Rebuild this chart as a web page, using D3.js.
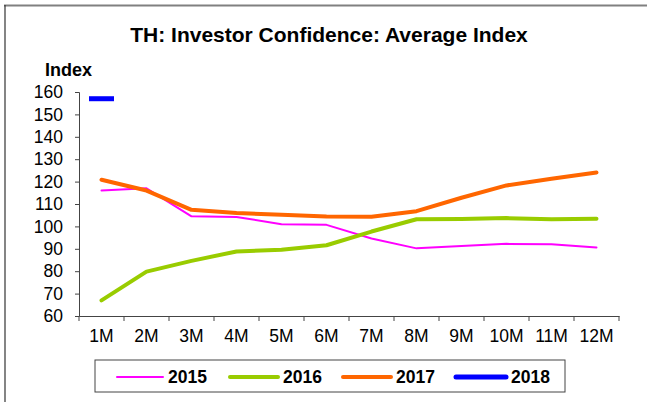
<!DOCTYPE html>
<html>
<head>
<meta charset="utf-8">
<script src="https://cdn.jsdelivr.net/npm/d3@7"></script>
<style>
  body { margin: 0; background: #fff; }
  text { font-family: "Liberation Sans", Arial, sans-serif; fill: #000; }
</style>
</head>
<body>
<div class="chart"></div>
<script>
// months on the x axis
const months = ["1M","2M","3M","4M","5M","6M","7M","8M","9M","10M","11M","12M"];
const yTicks = [60,70,80,90,100,110,120,130,140,150,160];

// index values
const v2015 = [116, 117, 104.5, 104.2, 101, 100.7, 94.6, 90.2, 91.3, 92.2, 92, 90.6];
const v2016 = [67, 79.8, 84.6, 88.8, 89.6, 91.6, 97.7, 103.2, 103.3, 103.7, 103.2, 103.4];
const v2017 = [120.8, 116, 107.4, 106, 105.2, 104.4, 104.3, 106.8, 112.8, 118.3, 121.3, 124.1];
const v2018 = [157];

const seriesNames = ["2015","2016","2017","2018"];
const seriesColors = ["#ff00ff","#99cc00","#ff6600","#0000ff"];
const seriesWidths = [2, 4, 4, 5];
const seriesData = [v2015, v2016, v2017, v2018];

const W = 647, H = 402;
const margin = {top: 92, right: 28, bottom: 86, left: 79};
const w = W - margin.left - margin.right;
const h = H - margin.top - margin.bottom;

const svg = d3.select(".chart").append("svg")
    .attr("width", W)
    .attr("height", H);

// outer frame: top and left edges
svg.append("line").attr("x1", 4).attr("x2", W).attr("y1", 5.5).attr("y2", 5.5)
   .attr("stroke", "#808080").attr("stroke-width", 2);
svg.append("line").attr("x1", 5).attr("x2", 5).attr("y1", 5).attr("y2", H)
   .attr("stroke", "#333").attr("stroke-width", 1.2);

svg.append("text")
   .attr("x", 329).attr("y", 42)
   .attr("text-anchor", "middle")
   .style("font-size", "21px").style("font-weight", "bold")
   .text("TH: Investor Confidence: Average Index");

svg.append("text")
   .attr("x", 45).attr("y", 76)
   .style("font-size", "18px").style("font-weight", "bold")
   .text("Index");

const g = svg.append("g").attr("transform", "translate(" + margin.left + "," + margin.top + ")");

const x = d3.scaleBand().domain(months).range([0, w]);
const y = d3.scaleLinear().domain([60, 160]).range([h, 0]);

const yAxis = g.append("g")
   .call(d3.axisLeft(y).tickValues(yTicks).tickSize(4).tickPadding(12));
const xAxis = g.append("g")
   .attr("transform", "translate(0," + h + ")")
   .call(d3.axisBottom(x).tickSize(0).tickPadding(14));

// boundary ticks between months
xAxis.selectAll(".bnd")
   .data(d3.range(months.length + 1))
   .enter().append("line")
   .attr("x1", i => i * x.step()).attr("x2", i => i * x.step())
   .attr("y1", 0).attr("y2", 5)
   .attr("stroke", "#444");

[yAxis, xAxis].forEach(a => {
  a.selectAll("path.domain").attr("stroke", "#444");
  a.selectAll(".tick line").attr("stroke", "#444");
  a.selectAll("text").style("font-size", "17.5px").style("font-family", "Liberation Sans, Arial, sans-serif").attr("fill", "#000");
});

const line = d3.line()
   .x((d, i) => x(months[i]) + x.bandwidth() / 2)
   .y(d => y(d));

seriesData.forEach((vals, k) => {
  if (vals.length > 1) {
    g.append("path")
     .datum(vals)
     .attr("d", line)
     .attr("fill", "none")
     .attr("stroke", seriesColors[k])
     .attr("stroke-width", seriesWidths[k])
     .attr("stroke-linejoin", "round")
     .attr("stroke-linecap", "round");
  } else {
    // only one point: drawn as a short dash
    const cx = x(months[0]) + x.bandwidth() / 2;
    g.append("line")
     .attr("x1", cx - 12.5).attr("x2", cx + 12.5)
     .attr("y1", y(vals[0])).attr("y2", y(vals[0]))
     .attr("stroke", seriesColors[k])
     .attr("stroke-width", seriesWidths[k]);
  }
});

// legend
const leg = svg.append("g").attr("transform", "translate(95,360)");
leg.append("rect").attr("width", 470).attr("height", 32)
   .attr("fill", "#fff").attr("stroke", "#444").attr("stroke-width", 1);
const legX = [22, 135, 248, 361];
const legLen = [46, 48, 48, 50];
seriesNames.forEach((s, k) => {
  leg.append("line")
     .attr("x1", legX[k]).attr("x2", legX[k] + legLen[k])
     .attr("y1", 17).attr("y2", 17)
     .attr("stroke", seriesColors[k])
     .attr("stroke-width", k === 0 ? 2 : seriesWidths[k])
     .attr("stroke-linecap", "round");
  leg.append("text")
     .attr("x", legX[k] + legLen[k] + 5).attr("y", 23)
     .style("font-size", "17.5px").style("font-weight", "bold")
     .text(s);
});
</script>
</body>
</html>
